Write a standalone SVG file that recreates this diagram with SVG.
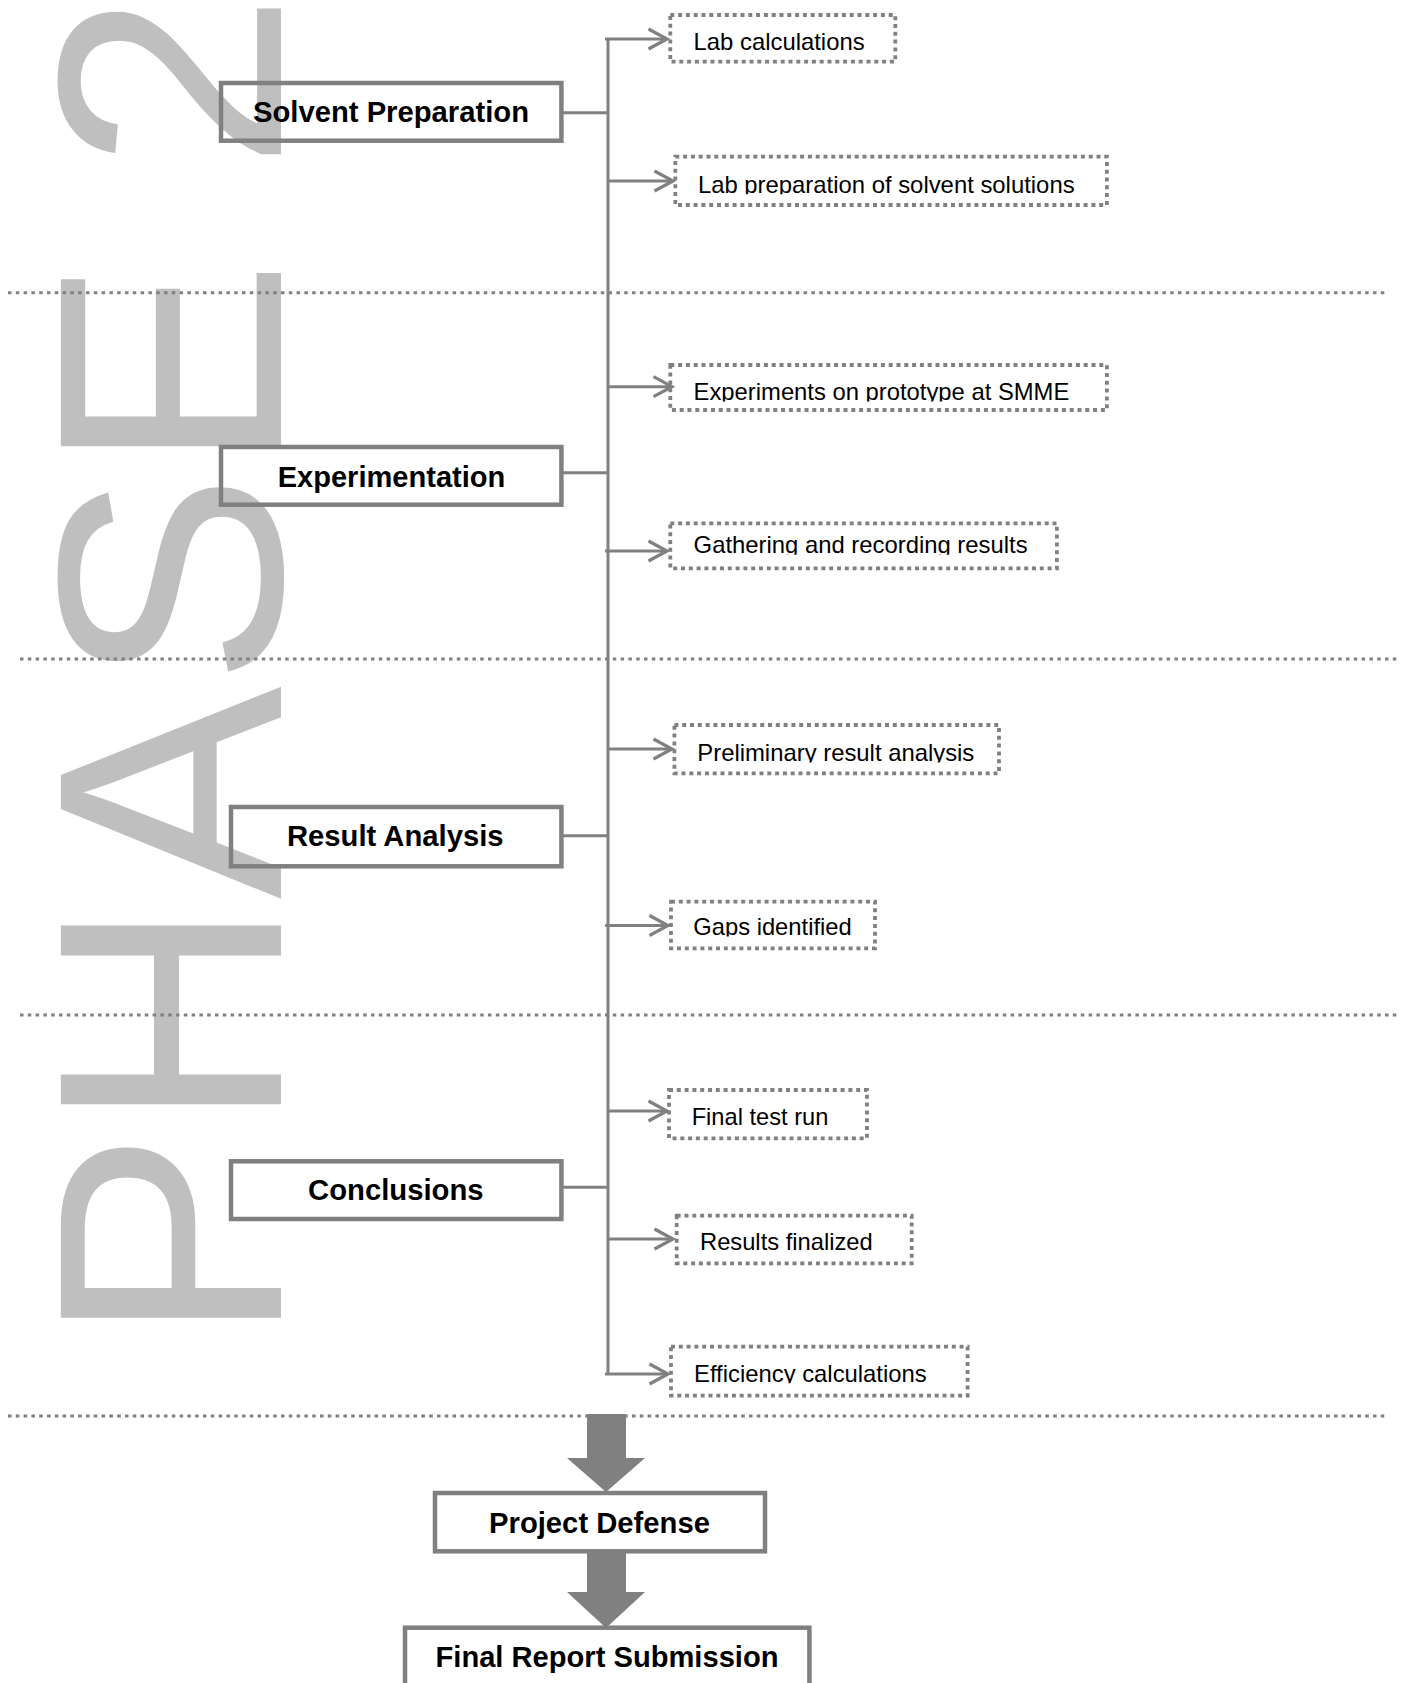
<svg xmlns="http://www.w3.org/2000/svg" width="1411" height="1683" viewBox="0 0 1411 1683">
<style>
.wm{font-family:"Liberation Sans",Arial,sans-serif;font-size:320px;fill:#bfbfbf}
.div{stroke:#808080;stroke-width:3;stroke-dasharray:3.5 4.3;fill:none}
.con{stroke:#808080;stroke-width:3;fill:none}
.br{stroke:#808080;stroke-width:3;fill:none;marker-end:url(#arr)}
.box{fill:none;stroke:#808080;stroke-width:4.5}
.dbox{fill:none;stroke:#808080;stroke-width:3.8;stroke-dasharray:4 3.8}
.bt{font-family:"Liberation Sans",Arial,sans-serif;font-size:29px;font-weight:bold;fill:#000;text-anchor:middle}
.rt{font-family:"Liberation Sans",Arial,sans-serif;font-size:24px;fill:#000}
.big{fill:#808080}
</style>
<defs>
<marker id="arr" markerUnits="userSpaceOnUse" viewBox="0 0 24 24" markerWidth="24" markerHeight="24" refX="20" refY="12" orient="auto">
<path d="M1.5,2 L20,12 L1.5,22" fill="none" stroke="#808080" stroke-width="3.2"/>
</marker>
<clipPath id="c1"><rect x="660" y="0" width="300" height="51.5"/></clipPath>
<clipPath id="c2"><rect x="660" y="150" width="460" height="44.2"/></clipPath>
<clipPath id="c3"><rect x="660" y="350" width="460" height="51.5"/></clipPath>
<clipPath id="c4"><rect x="660" y="510" width="460" height="44.8"/></clipPath>
<clipPath id="c5"><rect x="660" y="710" width="460" height="52.5"/></clipPath>
<clipPath id="c6"><rect x="660" y="890" width="460" height="46.5"/></clipPath>
<clipPath id="c7"><rect x="660" y="1080" width="460" height="46.5"/></clipPath>
<clipPath id="c8"><rect x="660" y="1200" width="460" height="51.5"/></clipPath>
<clipPath id="c9"><rect x="660" y="1340" width="460" height="43.2"/></clipPath>
</defs>
<rect x="0" y="0" width="1411" height="1683" fill="#fff"/>

<g id="watermark">
<text class="wm" transform="translate(281,1344) rotate(-90)">PHASE 2</text>
</g>

<g id="dividers">
<line class="div" x1="8" y1="292.7" x2="1388" y2="292.7"/>
<line class="div" x1="20" y1="659" x2="1400" y2="659"/>
<line class="div" x1="20" y1="1015" x2="1400" y2="1015"/>
<line class="div" x1="8" y1="1416" x2="1388" y2="1416"/>
</g>

<g id="connectors">
<line class="con" x1="608" y1="39" x2="608" y2="1374"/>
<line class="con" x1="563" y1="112.7" x2="608" y2="112.7"/>
<line class="con" x1="563" y1="472.7" x2="608" y2="472.7"/>
<line class="con" x1="563" y1="835.7" x2="608" y2="835.7"/>
<line class="con" x1="563" y1="1187.3" x2="608" y2="1187.3"/>
<line class="br" x1="605" y1="39" x2="667" y2="39"/>
<line class="br" x1="608" y1="181" x2="673" y2="181"/>
<line class="br" x1="608" y1="386.7" x2="672" y2="386.7"/>
<line class="br" x1="605" y1="551" x2="667" y2="551"/>
<line class="br" x1="608" y1="749" x2="672" y2="749"/>
<line class="br" x1="605" y1="925.5" x2="668" y2="925.5"/>
<line class="br" x1="608" y1="1111" x2="667" y2="1111"/>
<line class="br" x1="608" y1="1239" x2="673" y2="1239"/>
<line class="br" x1="605" y1="1374" x2="668" y2="1374"/>
<polygon class="big" points="587,1414 626,1414 626,1458 645,1458 606,1492 567,1458 587,1458"/>
<polygon class="big" points="587,1553 626,1553 626,1592 645,1592 606,1628 567,1592 587,1592"/>
</g>

<g id="solvent-preparation">
<rect class="box" x="221" y="83" width="340.4" height="57.7"/>
<text class="bt" x="391" y="121.7" textLength="276" lengthAdjust="spacingAndGlyphs">Solvent Preparation</text>
</g>
<g id="experimentation">
<rect class="box" x="221" y="447" width="340.4" height="57.7"/>
<text class="bt" x="391.5" y="486.7" textLength="227.7" lengthAdjust="spacingAndGlyphs">Experimentation</text>
</g>
<g id="result-analysis">
<rect class="box" x="231" y="807" width="330.4" height="59.3"/>
<text class="bt" x="395.3" y="846" textLength="216.6" lengthAdjust="spacingAndGlyphs">Result Analysis</text>
</g>
<g id="conclusions">
<rect class="box" x="231" y="1161.3" width="330.4" height="57.7"/>
<text class="bt" x="395.8" y="1200" textLength="175.5" lengthAdjust="spacingAndGlyphs">Conclusions</text>
</g>
<g id="project-defense">
<rect class="box" x="435" y="1493" width="330" height="58.3"/>
<text class="bt" x="599.5" y="1532.7" textLength="221" lengthAdjust="spacingAndGlyphs">Project Defense</text>
</g>
<g id="final-report-submission">
<rect class="box" x="405" y="1627.7" width="404.4" height="70"/>
<text class="bt" x="607" y="1666.7" textLength="343" lengthAdjust="spacingAndGlyphs">Final Report Submission</text>
</g>

<g id="lab-calculations">
<rect class="dbox" x="670.3" y="15" width="225" height="46.6"/>
<text class="rt" x="693.6" y="50" textLength="171" lengthAdjust="spacingAndGlyphs" clip-path="url(#c1)">Lab calculations</text>
</g>
<g id="lab-preparation">
<rect class="dbox" x="675.3" y="156.7" width="431.6" height="48.3"/>
<text class="rt" x="697.9" y="192.7" textLength="376.7" lengthAdjust="spacingAndGlyphs" clip-path="url(#c2)">Lab preparation of solvent solutions</text>
</g>
<g id="experiments-prototype">
<rect class="dbox" x="670.3" y="365" width="436.6" height="45"/>
<text class="rt" x="693.6" y="400" textLength="375.7" lengthAdjust="spacingAndGlyphs" clip-path="url(#c3)">Experiments on prototype at SMME</text>
</g>
<g id="gathering-results">
<rect class="dbox" x="670.3" y="523.4" width="386.6" height="44.9"/>
<text class="rt" x="693.6" y="553.3" textLength="334" lengthAdjust="spacingAndGlyphs" clip-path="url(#c4)">Gathering and recording results</text>
</g>
<g id="preliminary-analysis">
<rect class="dbox" x="674.4" y="725" width="324.6" height="48.3"/>
<text class="rt" x="697.3" y="761" textLength="277" lengthAdjust="spacingAndGlyphs" clip-path="url(#c5)">Preliminary result analysis</text>
</g>
<g id="gaps-identified">
<rect class="dbox" x="671" y="901.7" width="204" height="46.6"/>
<text class="rt" x="693.3" y="935" textLength="158.4" lengthAdjust="spacingAndGlyphs" clip-path="url(#c6)">Gaps identified</text>
</g>
<g id="final-test-run">
<rect class="dbox" x="669" y="1090" width="198" height="48.3"/>
<text class="rt" x="691.7" y="1125" textLength="136.6" lengthAdjust="spacingAndGlyphs" clip-path="url(#c7)">Final test run</text>
</g>
<g id="results-finalized">
<rect class="dbox" x="676.7" y="1215.7" width="235" height="47.6"/>
<text class="rt" x="700" y="1250" textLength="172.7" lengthAdjust="spacingAndGlyphs" clip-path="url(#c8)">Results finalized</text>
</g>
<g id="efficiency-calculations">
<rect class="dbox" x="671" y="1346.7" width="296.6" height="48.9"/>
<text class="rt" x="694" y="1381.7" textLength="232.7" lengthAdjust="spacingAndGlyphs" clip-path="url(#c9)">Efficiency calculations</text>
</g>
</svg>
